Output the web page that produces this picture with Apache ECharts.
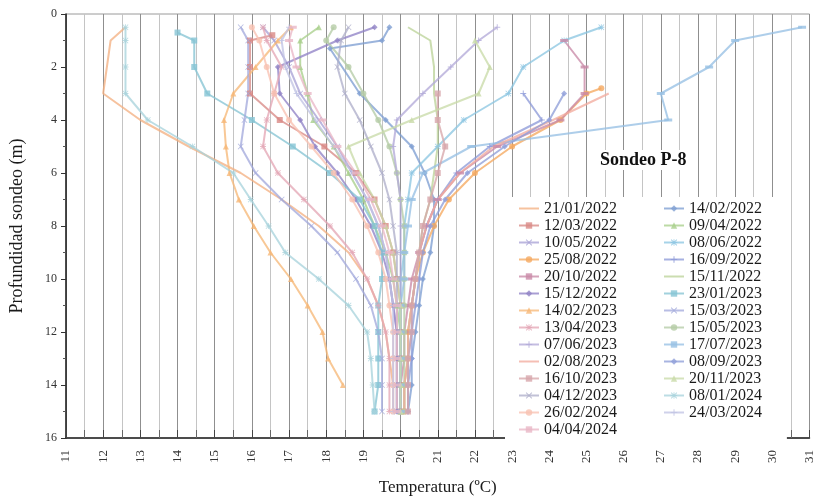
<!DOCTYPE html>
<html>
<head>
<meta charset="utf-8">
<script src="https://cdn.jsdelivr.net/npm/echarts@6/dist/echarts.min.js"></script>
<style>
  html, body { margin: 0; padding: 0; background: #ffffff; }
  #chart { width: 816px; height: 501px; }
</style>
</head>
<body>
<div id="chart"></div>
<script>
// Survey dates (legend order)
const dates = [
  '21/01/2022', '14/02/2022', '12/03/2022', '09/04/2022', '10/05/2022', '08/06/2022',
  '25/08/2022', '16/09/2022', '20/10/2022', '15/11/2022', '15/12/2022', '23/01/2023',
  '14/02/2023', '15/03/2023', '13/04/2023', '15/05/2023', '07/06/2023', '17/07/2023',
  '02/08/2023', '08/09/2023', '16/10/2023', '20/11/2023', '04/12/2023', '08/01/2024',
  '26/02/2024', '24/03/2024', '04/04/2024'
];

// Measurement depths (m)
const depthsStd  = [0.5, 1, 2, 3, 4, 5, 6, 7, 8, 9, 10, 11, 12, 13, 14, 15];
const depthsA    = [0.5, 1, 1.3, 3, 4, 5, 6, 7, 8, 9, 10, 11, 12, 13, 14, 15];
const depths07   = [0.7, 1, 2, 3, 4, 5, 6, 7, 8, 9, 10, 11, 12, 13, 14, 15];
const depths08   = [0.8, 1, 2, 3, 4, 5, 6, 7, 8, 9, 10, 11, 12, 13, 14, 15];
const depths1    = [1, 2, 3, 4, 5, 6, 7, 8, 9, 10, 11, 12, 13, 14, 15];
const depths28   = [2.8, 3, 4, 5, 6, 7, 8, 9, 10, 11, 12, 13, 14, 15];
const depths3    = [3, 4, 5, 6, 7, 8, 9, 10, 11, 12, 13, 14, 15];
const depthsTo14 = [0.5, 1, 2, 3, 4, 5, 6, 7, 8, 9, 10, 11, 12, 13, 14];

// Temperatures (ºC) per survey
const t_21_01_2022 = [12.6, 12.2, 12.1, 12.0, 13.0, 14.3, 15.7, 16.8, 17.8, 18.6, 19.1, 19.4, 19.6, 19.7, 19.8, 19.8];
const t_14_02_2022 = [19.7, 19.5, 18.1, 18.9, 19.6, 20.3, 20.65, 20.9, 20.9, 20.8, 20.6, 20.5, 20.4, 20.3, 20.3, 20.2];
const t_12_03_2022 = [16.55, 15.95, 15.95, 15.95, 16.75, 17.95, 18.8, 19.3, 19.6, 19.8, 19.9, 20.0, 20.0, 20.0, 20.0, 20.0];
const t_09_04_2022 = [17.8, 17.3, 17.3, 17.5, 17.65, 18.2, 18.6, 19.0, 19.3, 19.6, 19.8, 19.9, 20.0, 20.0, 20.0, 20.0];
const t_10_05_2022 = [16.3, 16.6, 17.0, 17.3, 17.8, 18.3, 18.7, 19.1, 19.4, 19.6, 19.7, 19.8, 19.9, 19.9, 19.9, 19.9];
const t_08_06_2022 = [25.4, 24.4, 23.3, 22.9, 21.7, 21.0, 20.3, 20.2, 20.1, 20.1, 20.0, 20.0, 20.0, 20.0, 20.0, 20.0];
const t_25_08_2022 = [25.4, 25.0, 24.3, 23.0, 22.0, 21.3, 20.9, 20.6, 20.4, 20.3, 20.2, 20.2, 20.1, 20.1];
const t_16_09_2022 = [23.3, 23.8, 22.4, 21.5, 21.0, 20.7, 20.5, 20.4, 20.3, 20.3, 20.2, 20.2, 20.2];
const t_20_10_2022 = [24.4, 24.95, 24.95, 24.3, 22.6, 21.6, 21.0, 20.7, 20.5, 20.3, 20.2, 20.1, 20.1, 20.0, 20.0];
const t_15_11_2022 = [20.2, 20.8, 20.9, 20.9, 21.0, 21.0, 20.9, 20.8, 20.6, 20.5, 20.4, 20.3, 20.2, 20.2, 20.1, 20.1];
const t_15_12_2022 = [19.3, 18.3, 16.7, 16.75, 17.3, 17.7, 18.3, 18.8, 19.2, 19.5, 19.7, 19.8, 19.9, 19.9, 19.9, 19.9];
const t_23_01_2023 = [14.0, 14.45, 14.45, 14.8, 16.0, 17.1, 18.1, 18.9, 19.3, 19.5, 19.5, 19.4, 19.4, 19.4, 19.4, 19.3];
const t_14_02_2023 = [17.05, 16.7, 16.1, 15.5, 15.25, 15.3, 15.4, 15.65, 16.05, 16.5, 17.05, 17.5, 17.9, 18.05, 18.45];
const t_15_03_2023 = [15.7, 15.9, 15.9, 15.9, 15.8, 15.7, 16.1, 16.8, 17.6, 18.3, 18.8, 19.2, 19.4, 19.5, 19.5, 19.5];
const t_13_04_2023 = [16.3, 16.4, 16.8, 16.6, 16.4, 16.3, 16.7, 17.4, 18.1, 18.7, 19.1, 19.4, 19.6, 19.7, 19.7, 19.7];
const t_15_05_2023 = [18.2, 18.0, 18.6, 19.0, 19.4, 19.7, 19.9, 20.0, 20.1, 20.1, 20.1, 20.1, 20.1, 20.1, 20.1, 20.1];
const t_07_06_2023 = [22.6, 22.1, 21.35, 20.6, 19.9, 19.8, 19.9, 20.0, 20.0, 20.0, 20.0, 20.0, 20.0, 20.0, 20.0, 20.0];
const t_17_07_2023 = [30.8, 29.0, 28.3, 27.0, 27.2, 21.9, 20.6, 20.3, 20.2, 20.1, 20.1, 20.0, 20.0, 20.0, 20.0, 20.0];
const t_02_08_2023 = [25.6, 24.1, 22.5, 21.6, 21.0, 20.7, 20.5, 20.4, 20.3, 20.2, 20.2, 20.1, 20.1];
const t_08_09_2023 = [24.4, 24.0, 22.8, 21.8, 21.2, 20.8, 20.6, 20.5, 20.4, 20.3, 20.3, 20.2, 20.2];
const t_16_10_2023 = [21.0, 21.0, 21.2, 21.0, 20.8, 20.6, 20.5, 20.4, 20.3, 20.3, 20.2, 20.2, 20.2];
const t_20_11_2023 = [22.0, 22.4, 22.1, 20.3, 18.6, 18.9, 19.3, 19.6, 19.8, 19.9, 20.0, 20.0, 20.0, 20.0, 20.0];
const t_04_12_2023 = [18.6, 18.4, 18.3, 18.5, 18.9, 19.2, 19.5, 19.7, 19.8, 19.9, 19.9, 19.9, 19.9, 19.9, 19.9, 19.9];
const t_08_01_2024 = [12.6, 12.6, 12.6, 12.6, 13.2, 14.4, 15.5, 15.97, 16.45, 16.9, 17.8, 18.6, 19.1, 19.2, 19.25, 19.3];
const t_26_02_2024 = [16.0, 16.2, 16.4, 16.6, 17.0, 17.6, 18.2, 18.7, 19.1, 19.4, 19.6, 19.7, 19.8, 19.8, 19.8, 19.8];
const t_24_03_2024 = [17.0, 16.8, 16.9, 17.2, 17.7, 18.2, 18.7, 19.1, 19.4, 19.6, 19.7, 19.8, 19.8, 19.8, 19.8, 19.8];
const t_04_04_2024 = [17.1, 17.0, 17.2, 17.5, 17.9, 18.3, 18.8, 19.2, 19.5, 19.7, 19.8, 19.9, 19.9, 19.9, 19.9, 19.9];

const temps = [
  t_21_01_2022, t_14_02_2022, t_12_03_2022, t_09_04_2022, t_10_05_2022, t_08_06_2022,
  t_25_08_2022, t_16_09_2022, t_20_10_2022, t_15_11_2022, t_15_12_2022, t_23_01_2023,
  t_14_02_2023, t_15_03_2023, t_13_04_2023, t_15_05_2023, t_07_06_2023, t_17_07_2023,
  t_02_08_2023, t_08_09_2023, t_16_10_2023, t_20_11_2023, t_04_12_2023, t_08_01_2024,
  t_26_02_2024, t_24_03_2024, t_04_04_2024
];
const depthSets = [
  depthsStd, depthsA, depths08, depthsStd, depthsStd, depthsStd,
  depths28, depths3, depths1, depthsStd, depthsStd, depths07,
  depthsTo14, depthsStd, depthsStd, depthsStd, depthsStd, depthsStd,
  depths3, depths3, depths3, depths1, depthsStd, depthsStd,
  depthsStd, depthsStd, depthsStd
];

// Styling
const colors = [
  '#f4b183', '#7f9fd2', '#d98a86', '#a9cf8c', '#a9a3d6', '#8dc6e2',
  '#f5a960', '#8e9bd9', '#c98aa8', '#bdd39a', '#9183c6', '#86c4d4',
  '#f6b878', '#a4abdc', '#e4a8b6', '#b5cca6', '#b3abd9', '#97c0e4',
  '#f2ac9f', '#909fd9', '#d7a6ab', '#c9dba9', '#afafca', '#a9d3dc',
  '#f8c2b2', '#c1c4e4', '#e9b7c6'
];
const X = 'path://M0,1L1,0L5,4L9,0L10,1L6,5L10,9L9,10L5,6L1,10L0,9L4,5Z';
const PLUS = 'path://M4.2,0H5.8V4.2H10V5.8H5.8V10H4.2V5.8H0V4.2H4.2Z';
const STAR = 'path://M4.3,0H5.7V4.3H10V5.7H5.7V10H4.3V5.7H0V4.3H4.3Z M1,0L5,4L9,0L10,1L6,5L10,9L9,10L5,6L1,10L0,9L4,5L0,1Z';
const DASH = 'path://M0,0H10V3H0Z';
const markerCycle = ['none', 'diamond', 'rect', 'triangle', X, STAR, 'circle', PLUS, DASH];

const serif = '"Liberation Serif", "Times New Roman", serif';

const series = dates.map((name, i) => {
  const d = depthSets[i];
  const sym = markerCycle[i % markerCycle.length];
  return {
    name: name,
    type: 'line',
    data: temps[i].map((t, k) => [t, d[k]]),
    symbol: sym,
    symbolSize: sym === DASH ? [8, 3] : 6,
    showSymbol: sym !== 'none',
    lineStyle: { color: colors[i], width: 2, opacity: 0.78 },
    itemStyle: { color: colors[i], borderWidth: 0, opacity: 0.8 },
    emphasis: { disabled: true },
    animation: false,
    z: 2
  };
});

// Legend entries: plain-line surveys get no marker in their key
const legendItem = (name) => {
  const i = dates.indexOf(name);
  const plain = markerCycle[i % markerCycle.length] === 'none';
  return plain ? { name: name, itemStyle: { opacity: 0 } } : { name: name };
};
const leftCol = dates.filter((_, i) => i % 2 === 0).map(legendItem);
const rightCol = dates.filter((_, i) => i % 2 === 1).map(legendItem);

const legendText = { fontFamily: serif, fontSize: 16, color: '#1a1a1a', lineHeight: 17 };

const chart = echarts.init(document.getElementById('chart'), null, { renderer: 'canvas' });
chart.setOption({
  animation: false,
  color: colors,
  title: {
    text: 'Sondeo P-8',
    left: 597,
    top: 150,
    padding: [1, 3],
    backgroundColor: '#ffffff',
    textStyle: { fontFamily: serif, fontWeight: 'bold', fontSize: 18, color: '#111' }
  },
  legend: [
    {
      data: leftCol,
      orient: 'vertical',
      left: 505,
      top: 197,
      padding: [3, 170, 5, 13],
      itemGap: 0,
      itemWidth: 20,
      itemHeight: 8,
      backgroundColor: '#ffffff',
      textStyle: legendText,
      selectedMode: false
    },
    {
      data: rightCol,
      orient: 'vertical',
      left: 663,
      top: 200,
      padding: 0,
      itemGap: 0,
      itemWidth: 20,
      itemHeight: 8,
      textStyle: legendText,
      selectedMode: false
    }
  ],
  grid: {
    left: 63, right: 3, top: 14, bottom: 55,
    show: true, borderColor: '#9a9a9a', borderWidth: 1
  },
  xAxis: {
    type: 'value',
    min: 11, max: 31, interval: 1,
    name: 'Temperatura (ºC)',
    nameLocation: 'middle',
    nameGap: 41,
    nameTextStyle: { fontFamily: serif, fontSize: 17, color: '#1a1a1a' },
    axisLine: { show: true, onZero: false, lineStyle: { color: '#222', width: 1.5 } },
    axisTick: { show: true, inside: true, length: 8, lineStyle: { color: '#444' } },
    minorTick: { show: true, splitNumber: 2, length: 8, lineStyle: { color: '#666' } },
    axisLabel: { rotate: 90, fontFamily: serif, fontSize: 13, color: '#333', margin: 12 },
    splitLine: { show: true, lineStyle: { color: '#8f8f8f', width: 1 } },
    minorSplitLine: { show: true, lineStyle: { color: '#c4c4c4', width: 1 } }
  },
  yAxis: {
    type: 'value',
    inverse: true,
    min: 0, max: 16, interval: 2,
    name: 'Profundidad sondeo (m)',
    nameLocation: 'middle',
    nameGap: 40,
    nameTextStyle: { fontFamily: serif, fontSize: 18, color: '#1a1a1a' },
    axisLine: { show: true, onZero: false, lineStyle: { color: '#222', width: 1.5 } },
    axisTick: { show: true, length: 5, lineStyle: { color: '#333' } },
    minorTick: { show: true, splitNumber: 2, length: 3, lineStyle: { color: '#555' } },
    axisLabel: { fontFamily: serif, fontSize: 12, color: '#333', margin: 9 },
    splitLine: { show: false }
  },
  series: series
});
</script>
</body>
</html>
